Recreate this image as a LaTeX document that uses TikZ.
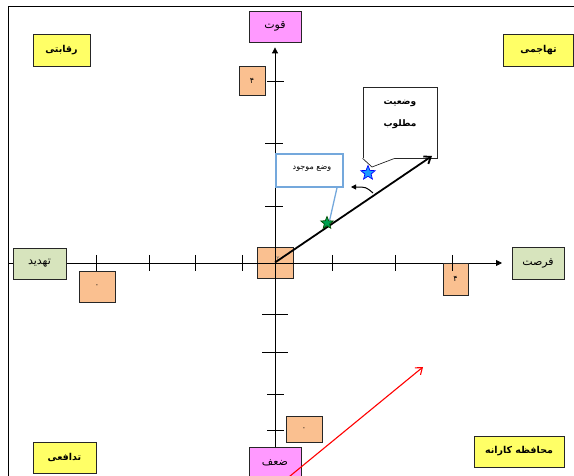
\documentclass[tikz,border=0pt]{standalone}
\usepackage{fontspec}
\usetikzlibrary{shapes.geometric,arrows.meta,calc}
\newfontfamily\arabicfont[Script=Arabic]{DejaVu Sans}
\TeXXeTstate=1
\definecolor{violetbox}{HTML}{FF99FF}
\definecolor{peachbox}{HTML}{FAC090}
\definecolor{greenbox}{HTML}{D7E4BD}
\definecolor{yellowbox}{HTML}{FFFF66}
\definecolor{calloutblue}{HTML}{74A8DC}
\definecolor{starblue}{HTML}{1E9BFF}
\definecolor{stargreen}{HTML}{00A050}
\begin{document}
\begin{tikzpicture}[x=1pt,y=-1pt,
  lbl/.style={draw=black!85, line width=0.8pt, inner sep=0pt, font=\arabicfont\fontsize{11}{12}\selectfont},
  quad/.style={lbl, fill=yellowbox, minimum height=32, font=\arabicfont\bfseries\fontsize{9.5}{10}\selectfont},
  numbox/.style={lbl, fill=peachbox, font=\arabicfont\fontsize{8}{9}\selectfont},
  axisline/.style={line width=0.8pt, -{Triangle[length=6pt,width=6pt]}},
  tickline/.style={line width=0.8pt},
  frameline/.style={line width=1pt},
  mainarrow/.style={line width=1.8pt, -{Straight Barb[length=6pt,width=9pt]}},
  redarrow/.style={draw=red, line width=1.1pt, -{Straight Barb[length=6pt,width=9pt]}},
  bendarrow/.style={line width=1pt, -{Triangle[length=5pt,width=5pt]}},
  starshape/.style={star, star points=5, star point ratio=2.3, inner sep=0pt, line width=0.7pt}
]
\useasboundingbox (0,0) rectangle (574,476);

% frame
\coordinate (fbl) at (8,476);
\coordinate (ftl) at (8,7);
\coordinate (ftr) at (574,7);
\draw[frameline] (fbl) -- (ftl) -- (ftr);

% centre box
\node[numbox, minimum width=36, minimum height=31] (ct) at (275,262.5) {};
\node[font=\arabicfont\fontsize{6}{6}\selectfont, text=black!60] (cttxt) at (278,259) {\beginR ۲\endR};

% axis end nodes
\node[lbl, fill=violetbox, minimum width=52, minimum height=31] (qv) at (275,26.5) {\beginR قوت\endR};
\node[lbl, fill=violetbox, minimum width=52, minimum height=31] (zf) at (275,462.5) {\beginR ضعف\endR};
\coordinate (hl) at (8,263);

% axes
\draw[axisline] (hl) -- ([xshift=-10pt]512,263);
\draw[axisline] (zf.north) -- ([yshift=-5pt]qv.south);

\node[lbl, fill=greenbox, minimum width=53, minimum height=31] (td) at (39.5,263.5) {\beginR تهدید\endR};
\node[lbl, fill=greenbox, minimum width=52, minimum height=32] (fs) at (538,263) {\beginR فرصت\endR};

% quadrant labels
\node[quad, minimum width=57] (rq) at (61.5,50) {\beginR رقابتی\endR};
\node[quad, minimum width=70] (th) at (538.5,50) {\beginR تهاجمی\endR};
\node[quad, minimum width=63, minimum height=31] (tf) at (64.5,457.5) {\beginR تدافعی\endR};
\node[quad, minimum width=90, minimum height=31] (mk) at (519,451.5) {\beginR محافظه کارانه\endR};

% number boxes
\node[numbox, minimum width=26, minimum height=29] (n4t) at (252,80.5) {\beginR ۴\endR};
\node[numbox, minimum width=36, minimum height=31] (n0l) at (97,286.5) {\beginR ۰\endR};
\node[numbox, minimum width=25, minimum height=32] (n4r) at (455.5,279) {\beginR ۴\endR};
\node[numbox, minimum width=36, minimum height=26] (n0b) at (304,429) {\beginR ۰\endR};

% ticks
\foreach \x in {96,149,195,242,332,395,452}
  \draw[tickline] (\x,255) -- (\x,271);
\foreach \y/\a/\b in {81/267/284, 143/265/283, 206/265/283, 314/262/288, 352/262/288, 394/267/284, 430/267/284}
  \draw[tickline] (\a,\y) -- (\b,\y);

% desired state callout
\node[draw=black!85, fill=white, line width=0.8pt, minimum width=74, minimum height=71, inner sep=0pt] (want) at (400,122.5) {};
\node[font=\arabicfont\bfseries\fontsize{9}{22}\selectfont, align=center] (wanttxt) at (400,114) {\beginR وضعیت\endR\\\beginR مطلوب\endR};
\coordinate (wtip) at (372,167);
\fill[white] ([xshift=0.5pt]want.south west) -- (wtip) -- ([xshift=32pt]want.south west) -- cycle;
\draw[white, line width=1.4pt] ([xshift=0.6pt]want.south west) -- ([xshift=31.4pt]want.south west);
\draw[line width=0.7pt, black!85] (want.south west) -- (wtip) -- ([xshift=32pt]want.south west);

% current state callout
\node[draw=calloutblue, fill=white, line width=1.6pt, minimum width=67, minimum height=33, inner sep=0pt] (cur) at (309.5,170.5) {};
\node[font=\arabicfont\fontsize{8}{9}\selectfont] (curtxt) at (312,169) {\beginR وضع موجود\endR};

% main arrow and stars
\coordinate (be) at (432,156);
\draw[mainarrow] (ct.center) -- (be);
\node[starshape, fill=stargreen, draw=black!70!green, minimum size=13] (gstar) at (327,223) {};
\node[starshape, fill=starblue, draw=blue, minimum size=15] (bstar) at (368,173) {};
\draw[calloutblue, line width=1.3pt] ([xshift=27.5pt]cur.south) -- (gstar.north east);

% bend arrow
\coordinate (ca) at (373,193);
\coordinate (cb) at (351,187);
\draw[bendarrow] (ca) .. controls (366,187) .. (cb);

% red arrow
\coordinate (rs) at (284,481);
\coordinate (re) at (423,367);
\draw[redarrow] (rs) -- (re);
\end{tikzpicture}
\end{document}
